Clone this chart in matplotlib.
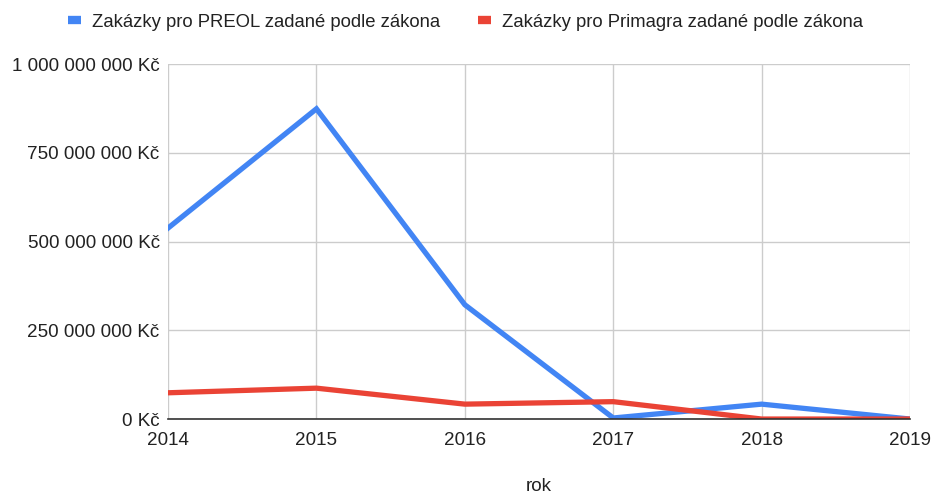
import matplotlib.pyplot as plt
from matplotlib.ticker import FuncFormatter

years = [2014, 2015, 2016, 2017, 2018, 2019]
preol = [538e6, 874e6, 322e6, 3e6, 42e6, 0]
primagra = [74e6, 87e6, 42e6, 49e6, 0, 0]
y_ticks = [0, 250e6, 500e6, 750e6, 1000e6]

plt.rcParams["font.family"] = ["Liberation Sans", "DejaVu Sans"]

fig = plt.figure(figsize=(9.31, 4.93), dpi=100)
ax = fig.add_axes([0.1805, 0.150, 0.797, 0.720])

ax.plot(years, preol, color="#4285F4", lw=3.8, solid_joinstyle="miter",
        label="Zakázky pro PREOL zadané podle zákona", zorder=3)
ax.plot(years, primagra, color="#EA4335", lw=3.8, solid_joinstyle="miter",
        label="Zakázky pro Primagra zadané podle zákona", zorder=3)

ax.set_xlim(years[0], years[-1])
ax.set_ylim(0, 1e9)
ax.set_xticks(years)
ax.set_yticks(y_ticks)


def kc(v, pos):
    return "{:,.0f} Kč".format(v).replace(",", " ")


ax.yaxis.set_major_formatter(FuncFormatter(kc))
ax.grid(True, color="#cccccc", lw=1)
ax.set_axisbelow(True)
for s in ["top", "right", "left"]:
    ax.spines[s].set_visible(False)
ax.spines["bottom"].set_color("#333333")
ax.spines["bottom"].set_linewidth(1.2)
ax.spines["bottom"].set_zorder(4)
ax.tick_params(length=0, labelsize=13.6, colors="#222222")
ax.tick_params(axis="x", pad=9)
ax.tick_params(axis="y", pad=6)

ax.set_xlabel("rok", fontsize=13.6, color="#222222", labelpad=21)

leg = fig.legend(loc="center", bbox_to_anchor=(0.5, 0.955), ncol=2,
                 frameon=False, fontsize=13.3, handlelength=0.75,
                 handleheight=0.6, columnspacing=2.0, handletextpad=0.6)
for line in leg.get_lines():
    line.set_linewidth(6)
    line.set_solid_capstyle("butt")
for t in leg.get_texts():
    t.set_color("#222222")

fig.savefig("out.png", dpi=100)
